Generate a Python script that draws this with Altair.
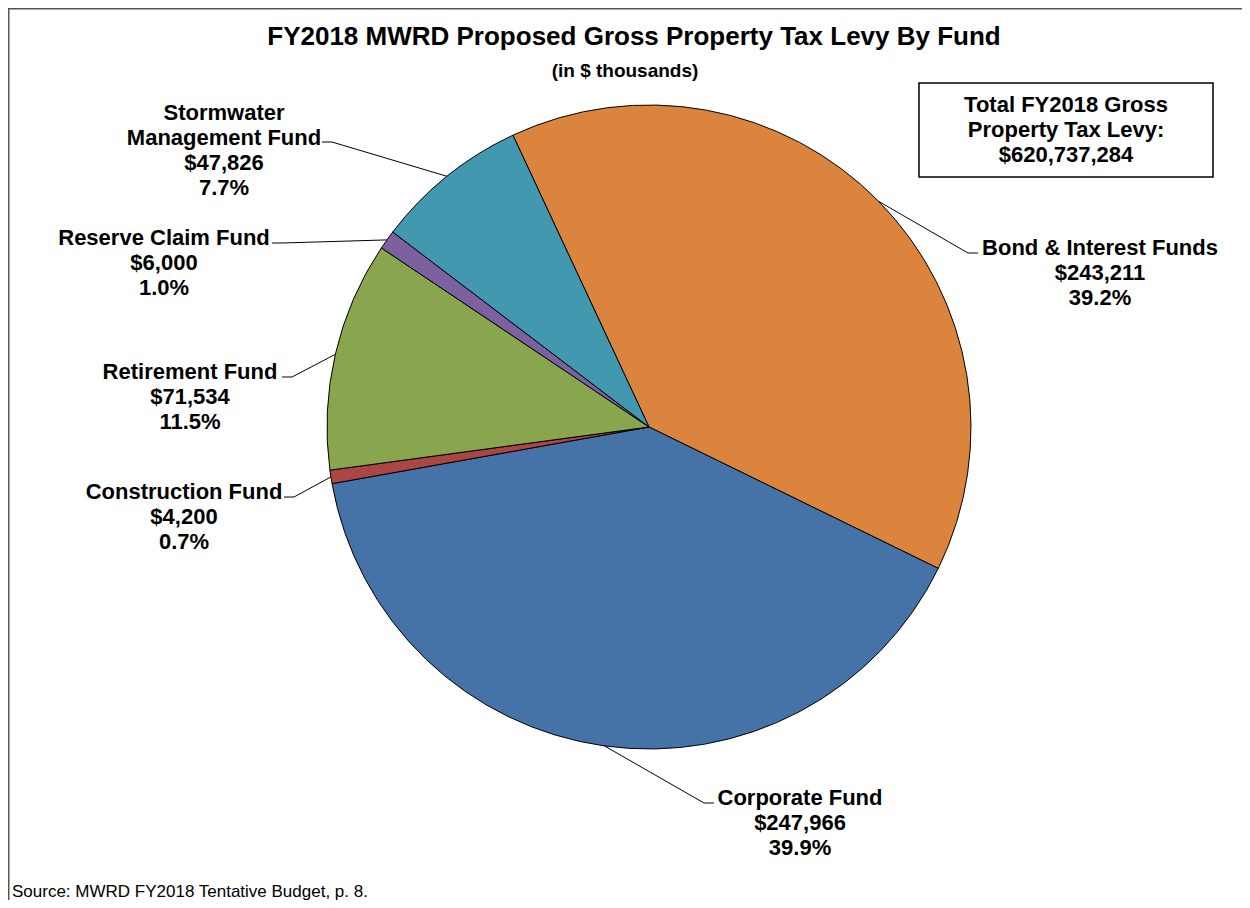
import math
import altair as alt
import pandas as pd

# ---------------- data ----------------
funds = ["Bond & Interest Funds", "Corporate Fund", "Construction Fund",
         "Retirement Fund", "Reserve Claim Fund", "Stormwater Management Fund"]
amounts = [243211, 247966, 4200, 71534, 6000, 47826]          # $ thousands
percents = ["39.2%", "39.9%", "0.7%", "11.5%", "1.0%", "7.7%"]
name_lines = [["Bond & Interest Funds"], ["Corporate Fund"], ["Construction Fund"],
              ["Retirement Fund"], ["Reserve Claim Fund"], ["Stormwater", "Management Fund"]]
colors = ["#DB843D", "#4572A7", "#AA4643", "#89A54E", "#7D60A0", "#4198AF"]

title_text = "FY2018 MWRD Proposed Gross Property Tax Levy By Fund"
subtitle_text = "(in $ thousands)"
box_lines = ["Total FY2018 Gross", "Property Tax Levy:", "$620,737,284"]
source_text = "Source: MWRD FY2018 Tentative Budget, p. 8."

# ---------------- layout ----------------
W, H = 1234, 892
CX, CY, R = 641, 419, 322
START = math.radians(-25.0)
LH = 25
# label anchor: (x centre, y of first line, elbow point, end point)
layout = {
    "Bond & Interest Funds":      (1092, 240, (960, 245), (970, 245)),
    "Corporate Fund":             (792, 790, (696, 795), (706, 795)),
    "Construction Fund":          (176, 484, (286, 489), (276, 489)),
    "Retirement Fund":            (182, 364, (284, 369), (274, 369)),
    "Reserve Claim Fund":         (156, 230, (274, 235), (264, 235)),
    "Stormwater Management Fund": (216, 105, (324, 134), (314, 134)),
}

xs = alt.Scale(domain=[0, W], nice=False, zero=False)
ys = alt.Scale(domain=[0, H], nice=False, zero=False, reverse=True)

pie_df = pd.DataFrame({"fund": funds, "amount": amounts, "idx": range(len(funds))})

total = sum(amounts)
text_rows, line_rows = [], []
cum = 0
for i, f in enumerate(funds):
    mid = START + 2 * math.pi * (cum + amounts[i] / 2) / total
    cum += amounts[i]
    lx, ly, elbow, end = layout[f]
    lines = name_lines[i] + [f"${amounts[i]:,}", percents[i]]
    for j, t in enumerate(lines):
        text_rows.append({"x": lx, "y": ly + j * LH, "text": t})
    ax, ay = CX + R * math.sin(mid), CY - R * math.cos(mid)
    for k, (px, py) in enumerate([(ax, ay), elbow, end]):
        line_rows.append({"fund": f, "pt": k, "x": px, "y": py})

text_df = pd.DataFrame(text_rows)
line_df = pd.DataFrame(line_rows)

pie = alt.Chart(pie_df).mark_arc(radius=R, stroke="black", strokeWidth=1).encode(
    theta=alt.Theta("amount:Q", stack=True,
                    scale=alt.Scale(range=[START, START + 2 * math.pi])),
    color=alt.Color("fund:N", scale=alt.Scale(domain=funds, range=colors), legend=None),
    order=alt.Order("idx:Q"),
    x=alt.value(CX), y=alt.value(CY),
)

leaders = alt.Chart(line_df).mark_line(color="black", strokeWidth=1).encode(
    x=alt.X("x:Q", scale=xs, axis=None),
    y=alt.Y("y:Q", scale=ys, axis=None),
    detail="fund:N", order="pt:Q",
)

labels = alt.Chart(text_df).mark_text(
    font="Liberation Sans", fontWeight="bold", fontSize=22,
    align="center", baseline="middle", color="black"
).encode(x=alt.X("x:Q", scale=xs, axis=None), y=alt.Y("y:Q", scale=ys, axis=None), text="text:N")

title = alt.Chart(pd.DataFrame({"x": [626], "y": [29], "text": [title_text]})).mark_text(
    font="Liberation Sans", fontWeight="bold", fontSize=26, align="center", baseline="middle"
).encode(x=alt.X("x:Q", scale=xs, axis=None), y=alt.Y("y:Q", scale=ys, axis=None), text="text:N")

subtitle = alt.Chart(pd.DataFrame({"x": [617], "y": [63], "text": [subtitle_text]})).mark_text(
    font="Liberation Sans", fontWeight="bold", fontSize=19, align="center", baseline="middle"
).encode(x=alt.X("x:Q", scale=xs, axis=None), y=alt.Y("y:Q", scale=ys, axis=None), text="text:N")

box = alt.Chart(pd.DataFrame({"a": [0]})).mark_rect(fill="white", stroke="black", strokeWidth=1.5).encode(
    x=alt.value(911), x2=alt.value(1205), y=alt.value(75), y2=alt.value(169)
)

box_df = pd.DataFrame({"x": [1058] * 3, "y": [97 + j * LH for j in range(3)], "text": box_lines})
box_text = alt.Chart(box_df).mark_text(
    font="Liberation Sans", fontWeight="bold", fontSize=22, align="center", baseline="middle"
).encode(x=alt.X("x:Q", scale=xs, axis=None), y=alt.Y("y:Q", scale=ys, axis=None), text="text:N")

source = alt.Chart(pd.DataFrame({"x": [4], "y": [884], "text": [source_text]})).mark_text(
    font="Liberation Sans", fontSize=17, align="left", baseline="middle"
).encode(x=alt.X("x:Q", scale=xs, axis=None), y=alt.Y("y:Q", scale=ys, axis=None), text="text:N")

frame_left = alt.Chart(pd.DataFrame({"a": [0]})).mark_rule(color="#555555", strokeWidth=1.5).encode(
    x=alt.value(0.75), y=alt.value(0), y2=alt.value(H))
frame_top = alt.Chart(pd.DataFrame({"a": [0]})).mark_rule(color="#555555", strokeWidth=1.5).encode(
    x=alt.value(0), x2=alt.value(W), y=alt.value(0.75))

chart = alt.layer(
    frame_left, frame_top, pie, leaders, labels, title, subtitle, box, box_text, source
).properties(
    width=W, height=H, padding=0,
    autosize=alt.AutoSizeParams(type="none"),
    background="white",
).configure_view(stroke=None)

chart.save("out.html", embed_options={"renderer": "svg", "actions": False})
